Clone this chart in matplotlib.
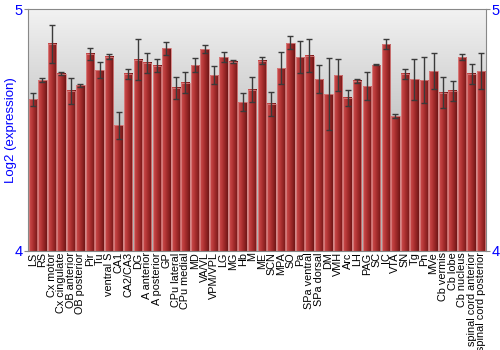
import numpy as np
import matplotlib
matplotlib.use("Agg")
import matplotlib.pyplot as plt
from matplotlib.colors import LinearSegmentedColormap

plt.rcParams["font.family"] = ["Liberation Sans", "DejaVu Sans"]

regions = ["LS", "RS", "Cx motor", "Cx cingulate", "OB anterior", "OB posterior",
           "Pir", "Tu", "ventral S", "CA1", "CA2/CA3", "DG", "A anterior",
           "A posterior", "GP", "CPu lateral", "CPu medial", "MD", "VA/VL",
           "VPM/VPL", "LG", "MG", "Hb", "M", "ME", "SCN", "MPA", "SO", "Pa",
           "SPa ventral", "SPa dorsal", "DM", "VMH", "Arc", "LH", "PAG", "SC",
           "IC", "VTA", "SN", "Tg", "Pn", "MVe", "Cb vermis", "Cb lobe",
           "Cb nucleus", "spinal cord anterior", "spinal cord posterior"]
expression = [4.627, 4.707, 4.856, 4.733, 4.662, 4.685, 4.815, 4.747, 4.804,
              4.519, 4.732, 4.791, 4.778, 4.765, 4.838, 4.675, 4.696, 4.769,
              4.834, 4.727, 4.802, 4.783, 4.616, 4.667, 4.787, 4.609, 4.756,
              4.860, 4.802, 4.807, 4.710, 4.649, 4.727, 4.634, 4.704, 4.682,
              4.769, 4.854, 4.558, 4.732, 4.709, 4.706, 4.743, 4.655, 4.662,
              4.802, 4.732, 4.744]
error = [0.028, 0.010, 0.080, 0.006, 0.055, 0.007, 0.026, 0.033, 0.012, 0.055,
         0.022, 0.086, 0.042, 0.027, 0.028, 0.046, 0.043, 0.030, 0.017, 0.037,
         0.021, 0.006, 0.038, 0.051, 0.013, 0.050, 0.066, 0.027, 0.068, 0.069,
         0.057, 0.150, 0.066, 0.033, 0.009, 0.056, 0.002, 0.021, 0.008, 0.019,
         0.084, 0.095, 0.075, 0.065, 0.041, 0.011, 0.040, 0.074]

BLUE = "#0000ff"
YMIN, YMAX = 4, 5

fig = plt.figure(figsize=(5, 3.5), dpi=100)
ax = fig.add_axes([0.056, 0.283, 0.916, 0.691])

n = len(regions)
x = np.arange(n)
ax.set_xlim(-0.5, n - 0.5)
ax.set_ylim(YMIN, YMAX)

# background gradient: light at top, grey further down
bg = LinearSegmentedColormap.from_list("bg", ["#f2f2f2", "#c4c4c4", "#b0b0b0"])
ax.imshow(np.linspace(0, 1, 256).reshape(-1, 1), cmap=bg, aspect="auto",
          extent=(-0.5, n - 0.5, YMIN, YMAX), origin="upper", zorder=0)

# bars with horizontal shading
barmap = LinearSegmentedColormap.from_list("bar", ["#cc5050", "#b83838", "#962626", "#701616"])
grad = np.linspace(0, 1, 64).reshape(1, -1)
w = 0.88
for xi, v in zip(x, expression):
    ax.imshow(grad, cmap=barmap, aspect="auto",
              extent=(xi - w / 2, xi + w / 2, YMIN, v), zorder=2)
    ax.bar(xi, v - YMIN, bottom=YMIN, width=w, facecolor="none",
           edgecolor="#d88080", linewidth=0.6, zorder=3)

ax.errorbar(x, expression, yerr=error, fmt="none", ecolor="#3a3a3a",
            elinewidth=1.0, capsize=2.2, capthick=1.0, zorder=4)

ax.set_xticks(x)
ax.set_xticklabels(regions, rotation=90, fontsize=7.8)
ax.tick_params(axis="x", length=0, pad=1)

ax.set_yticks([4, 5])
ax.tick_params(axis="y", colors="#888888", labelcolor=BLUE, labelsize=10.5,
               length=3, pad=1, labelright=True, right=True)
ax.set_ylabel("Log2 (expression)", color=BLUE, fontsize=9.5, va="center")
ax.yaxis.set_label_coords(-0.037, 0.5)

for s in ax.spines.values():
    s.set_color("#888888")
    s.set_linewidth(0.8)

fig.savefig("out.png", dpi=100)
